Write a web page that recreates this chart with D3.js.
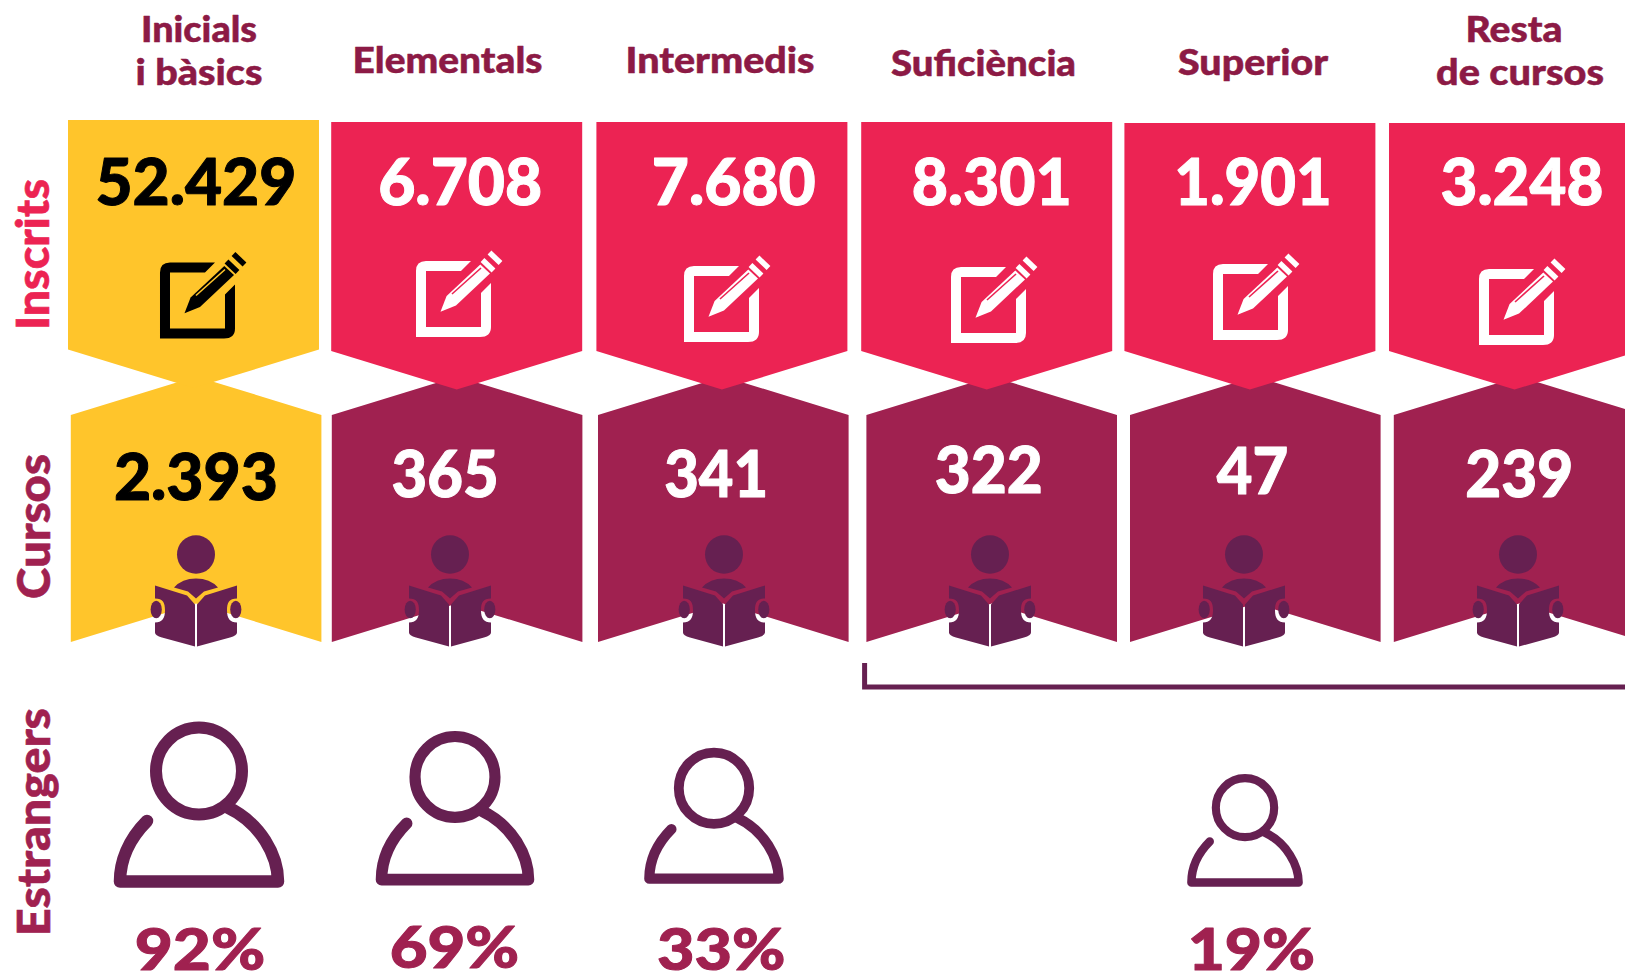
<!DOCTYPE html>
<html><head><meta charset="utf-8">
<script src="https://cdn.jsdelivr.net/npm/d3@7/dist/d3.min.js"></script>
<style>html,body{margin:0;padding:0;background:#fff;overflow:hidden}svg{display:block}text{font-family:Lato,sans-serif;font-weight:900}</style>
</head><body><svg id="c" width="1625" height="974"></svg>
<script>
// ---- data ----
const categories = ["Inicials i bàsics","Elementals","Intermedis","Suficiència","Superior","Resta de cursos"];
const headerLines = [["Inicials","i bàsics"],["Elementals"],["Intermedis"],["Suficiència"],["Superior"],["Resta","de cursos"]];
const inscrits = [52429,6708,7680,8301,1901,3248];
const cursos = [2393,365,341,322,47,239];
const estrangers = [92,69,33,null,19,null];
const rowLabels = ["Inscrits","Cursos","Estrangers"];

// ---- layout (separate from the data) ----
const W=1625, H=974, YEL="#ffc52b", PINK="#ec2353", PUR="#a02150", DARK="#662051", HEAD="#8c1a45";
const xI=d3.scaleBand().domain(categories).range([68,1640]).paddingInner(0.05).paddingOuter(0);
const xC=d3.scaleBand().domain(categories).range([70.8,1644.4]).paddingInner(0.0529).paddingOuter(0);
const cI=c=>xI(c)+xI.bandwidth()/2, cC=c=>xC(c)+xC.bandwidth()/2;
const topI=[120,122,122,122,123,123], boxNudgeI=[0,-1,0,.6,-.4,0], boxNudgeC=[0,-3.6,-2,1.8,0.8,0];
const numI={dx:[2.4,2.5,11.9,5.7,2.7,7.5],w:[201,164,164,160,157.5,163]};
const numC={dx:[-.2,-15.6,-9.1,-1.2,-2,.2],w:[164,107,104,108,71.5,108],y:[499.5,496.5,496.5,493.3,494,496.5]};
const editDx=[4,-4.2,-.4,2.4,.2,2], editY=[262.5,261,266,267,264,269];
const readerDx=[-.1,-10.7,-1.3,.1,-10.5,-1.1];
const personDx=[5.5,-2.7,-7.9,-5.3], personY=[888,885.7,884,887];
const pctCx=[200,454.5,721.3,1251.4], pctW=[130.6,129.5,128.5,127.5], pctY=[970,968,970,970];
const headLayout=[[[199,41.5,116],[199,85,127]],[[447.5,72.5,190]],[[720,72.5,189]],[[983.5,75.5,185]],[[1253,74.5,150]],[[1514,41.5,97],[1520,85,168]]];
const rowLayout=[{x:48.5,y:330,len:151,c:PINK},{x:49.5,y:599,len:145,c:PUR},{x:49.5,y:936,len:228,c:PUR}];
const personW=d3.scaleLog().domain([19,33,69,92]).range([116,140,159,171]);

const svg=d3.select("#c");
const fmt=d3.formatLocale({decimal:",",thousands:".",grouping:[3],currency:["",""]}).format(",d");
const line=d3.line();
function label(g,txt,cx,y,w,size,fill,sw){
  return g.append("text").attr("x",cx).attr("y",y).attr("text-anchor","middle").attr("font-size",size)
   .attr("fill",fill).attr("stroke",fill).attr("stroke-width",sw||0).attr("stroke-linejoin","round")
   .attr("textLength",w).attr("lengthAdjust","spacingAndGlyphs").text(txt);
}

// ---- Cursos chevrons (underneath) ----
const depth=38.6, wC=xC.bandwidth(), wI=xI.bandwidth();
svg.append("g").selectAll("path").data(categories).join("path")
 .attr("fill",(d,i)=>i?PUR:YEL)
 .attr("d",(d,i)=>{const x=xC(d)+boxNudgeC[i],t=415,b=642;
   return line([[x,t],[x+wC/2,t-depth],[x+wC,t],[x+wC,b],[x+wC/2,b-depth],[x,b]])+"Z";});
// ---- Inscrits pennants ----
svg.append("g").selectAll("path").data(categories).join("path")
 .attr("fill",(d,i)=>i?PINK:YEL)
 .attr("d",(d,i)=>{const x=xI(d)+boxNudgeI[i],t=topI[i],b=i?351:349.5;
   return line([[x,t],[x+wI,t],[x+wI,b],[x+wI/2,b+depth],[x,b]])+"Z";});

// ---- numbers ----
const gN=svg.append("g");
inscrits.forEach((v,i)=>label(gN,fmt(v),cI(categories[i])+numI.dx[i],204.5,numI.w[i],64,i?"#fff":"#000",1));
cursos.forEach((v,i)=>label(gN,fmt(v),cC(categories[i])+numC.dx[i],numC.y[i],numC.w[i],64,i?"#fff":"#000",1));

// ---- edit icons ----
categories.forEach((c,i)=>{
  const fg=i?"#fff":"#000", bg=i?PINK:YEL;
  const g=svg.append("g").attr("transform",`translate(${cI(c)+editDx[i]-37.5},${editY[i]})`);
  g.append("path").attr("fill",fg).attr("fill-rule","evenodd")
   .attr("d","M55,0L10,0Q0,0 0,10L0,76L64,76Q75,76 75,66L75,22L65,32L65,66L10,66L10,10L45,10Z");
  g.append("path").attr("fill",fg).attr("d","M24.5,50.7L30.6,35L64.3,3.6L74,12.5L40,44.6Z");
  g.append("line").attr("x1",36).attr("y1",33).attr("x2",65).attr("y2",7).attr("stroke",bg).attr("stroke-width",1.6);
  [[66.5,-1,77.5,9.5],[73.5,-8.5,84.5,2]].forEach(p=>g.append("line").attr("x1",p[0]).attr("y1",p[1]).attr("x2",p[2]).attr("y2",p[3]).attr("stroke",fg).attr("stroke-width",5.5));
});

// ---- reader icons ----
categories.forEach((c,i)=>{
  const g=svg.append("g").attr("transform",`translate(${cC(c)+readerDx[i]},554.5)`).attr("fill",DARK);
  g.append("ellipse").attr("rx",19).attr("ry",19.3);
  g.append("path").attr("d","M-22,33Q-14,24 0,24Q14,24 22,33L8,37L0,44L-8,37Z");
  [-1,1].forEach(s=>{
    const p=(x,y)=>`${s*x},${y}`;
    g.append("path").attr("d",`M${p(1,50)}L${p(9,41)}L${p(41,31)}L${p(41,44)}C${p(33,44)} ${p(31,48)} ${p(31,56)}C${p(31,64)} ${p(34,68)} ${p(41,68)}L${p(41,78)}Q${p(41,81)} ${p(34,83)}L${p(1,92)}Z`);
    g.append("ellipse").attr("cx",s*39.8).attr("cy",55).attr("rx",5.6).attr("ry",8.8);
  });
});

// ---- bracket ----
svg.append("path").attr("fill","none").attr("stroke",DARK).attr("stroke-width",5)
 .attr("d",line([[xI(categories[3])+4,663],[xI(categories[3])+4,687],[W+5,687]]));

// ---- foreign-student persons and percentages ----
let k=0;
estrangers.forEach((v,i)=>{
  if(v==null) return;
  const c=categories[i], s=personW(v)/171;
  const g=svg.append("g").attr("transform",`translate(${cI(c)+personDx[k]},${personY[k]}) scale(${s})`)
    .attr("fill","none").attr("stroke",DARK).attr("stroke-linecap","round").attr("stroke-linejoin","round");
  g.append("ellipse").attr("cy",-117).attr("rx",43).attr("ry",43.5).attr("stroke-width",12);
  g.append("path").attr("stroke-width",12.5).attr("d","M-52,-67C-71,-48 -79,-26 -79,-6.5L79,-6.5C79,-32 62,-65 28,-81");
  label(svg,v+"%",pctCx[k],pctY[k],pctW[k],58,PUR,1);
  k++;
});

// ---- headers ----
headerLines.forEach((ls,i)=>ls.forEach((t,j)=>{const L=headLayout[i][j];label(svg,t,L[0],L[1],L[2],36,HEAD,.5);}));
// ---- row labels ----
rowLabels.forEach((t,i)=>{const r=rowLayout[i];
  svg.append("text").attr("transform",`translate(${r.x},${r.y}) rotate(-90)`).attr("font-size",45).attr("fill",r.c)
   .attr("stroke",r.c).attr("stroke-width",.6).attr("textLength",r.len).attr("lengthAdjust","spacingAndGlyphs").text(t);});
</script></body></html>
